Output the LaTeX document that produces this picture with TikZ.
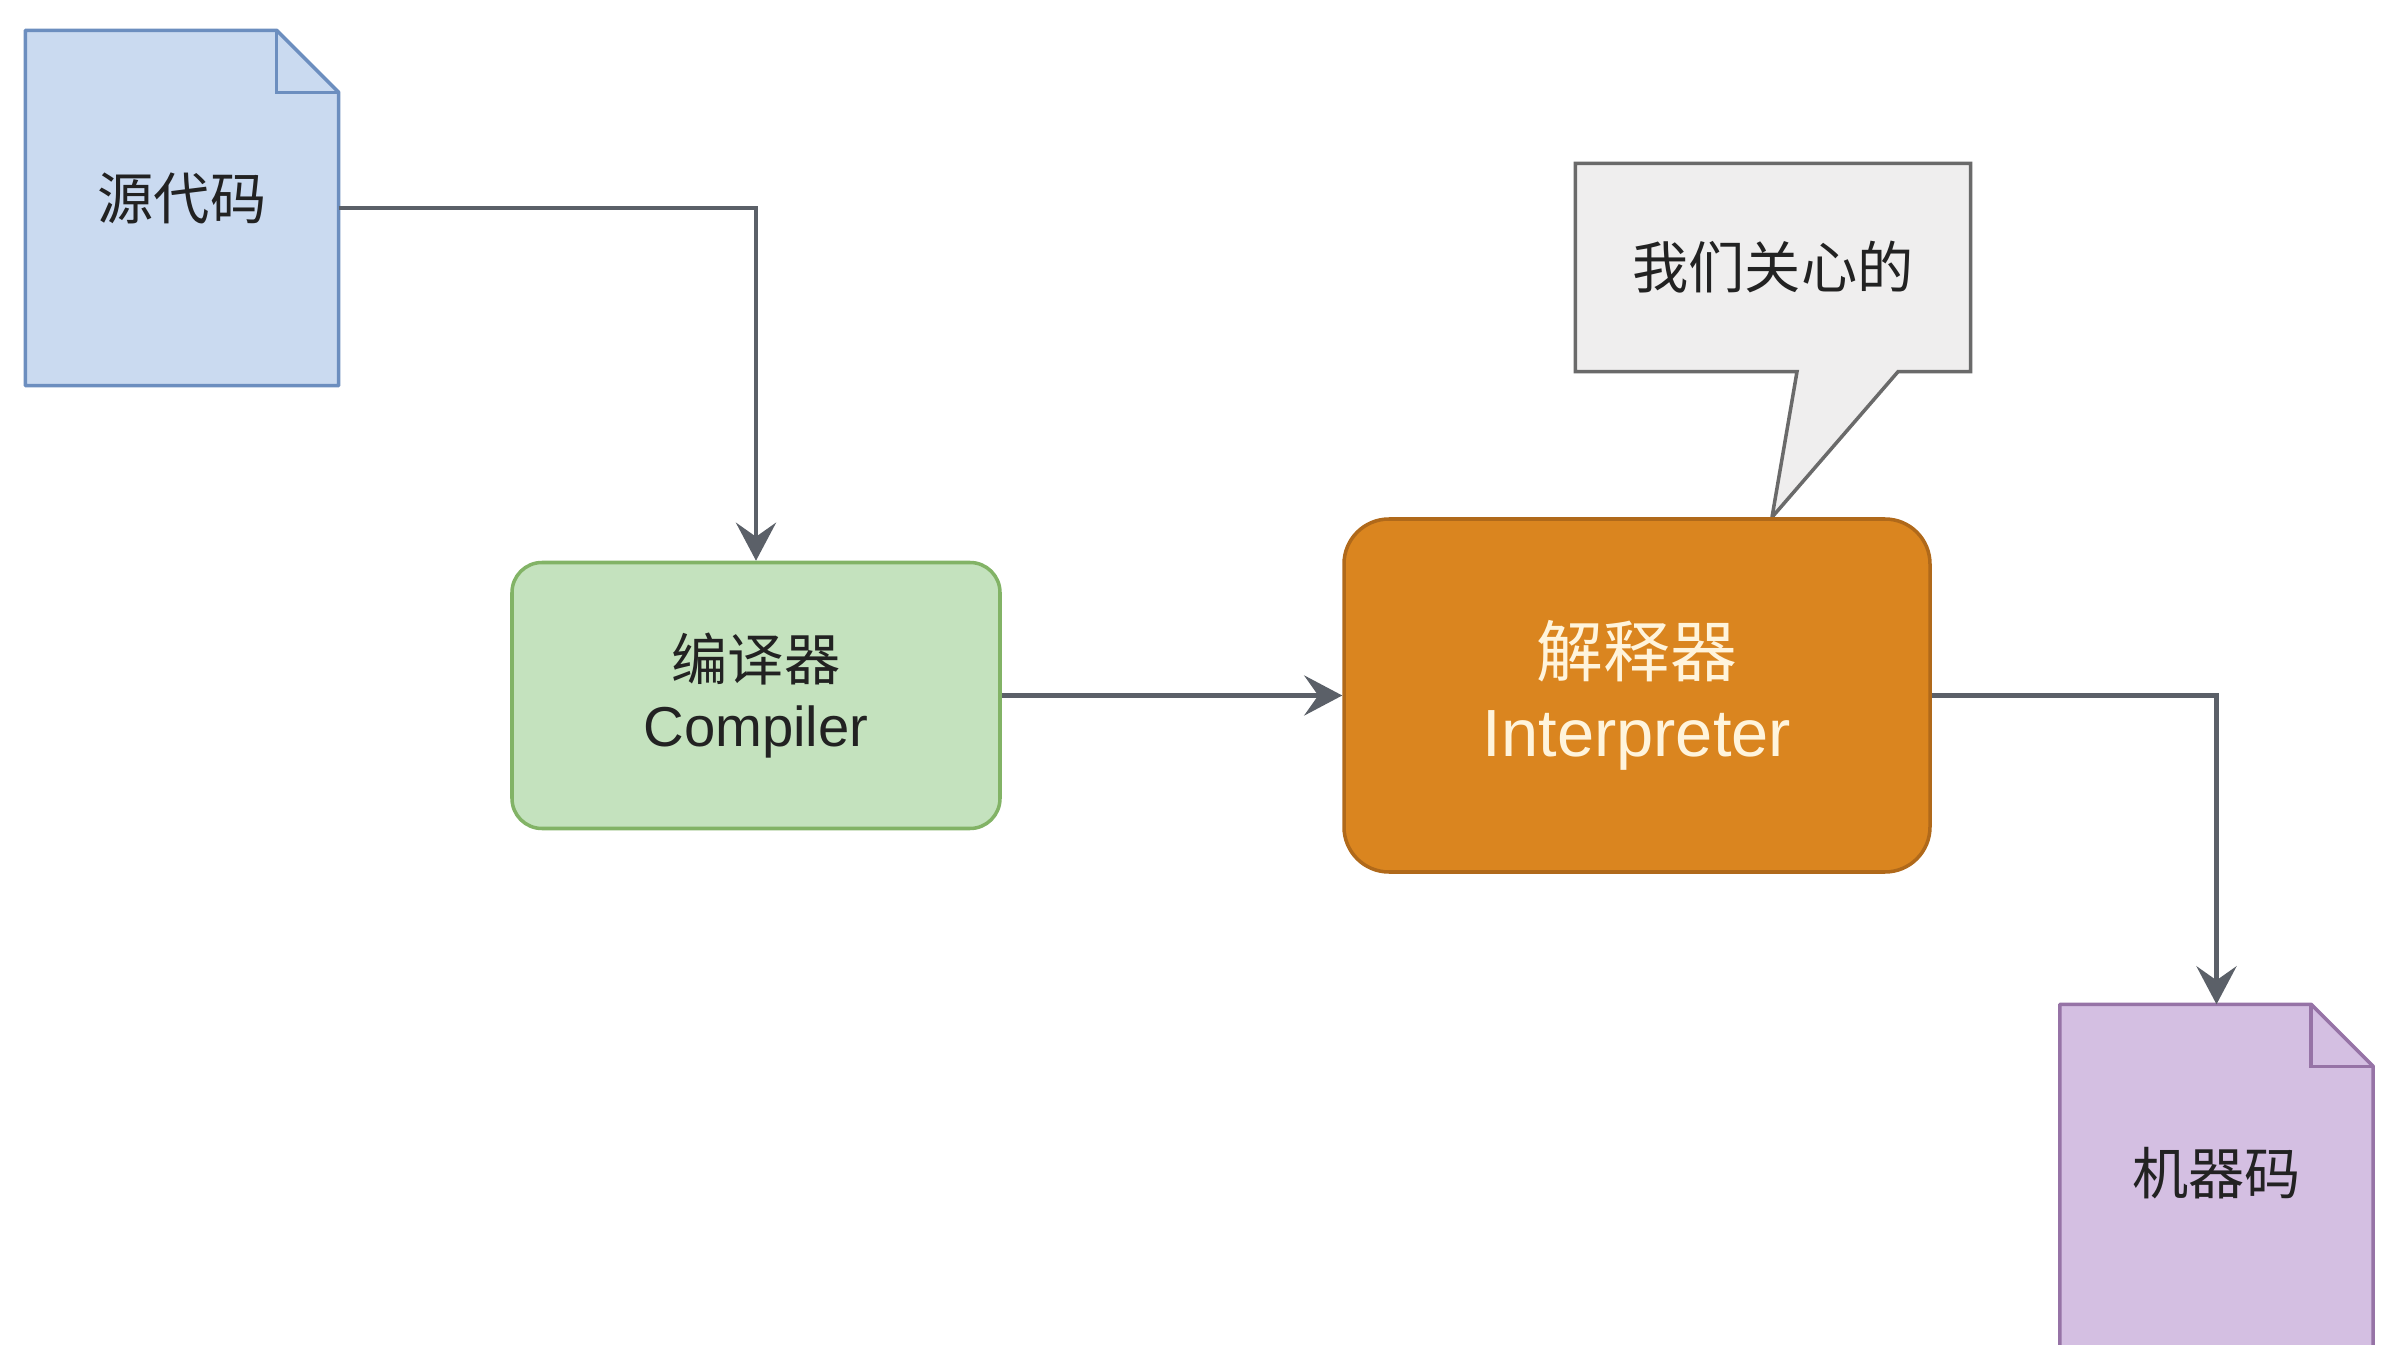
\documentclass[tikz,border=0pt]{standalone}
\usepackage{fontspec}
\setmainfont{Liberation Sans}
\newfontfamily\cjk{Noto Sans CJK SC}
\usetikzlibrary{arrows.meta,backgrounds,positioning}
\definecolor{srcfill}{HTML}{CADAF0}
\definecolor{srcline}{HTML}{6C8EBF}
\definecolor{cmpfill}{HTML}{C4E2BE}
\definecolor{cmpline}{HTML}{82B366}
\definecolor{itpfill}{HTML}{DA851F}
\definecolor{itpline}{HTML}{B0691A}
\definecolor{itptext}{HTML}{FFF4DC}
\definecolor{notefill}{HTML}{EFEEEE}
\definecolor{noteline}{HTML}{6A6A6A}
\definecolor{machfill}{HTML}{D4BFE2}
\definecolor{machline}{HTML}{9673A6}
\definecolor{linkgray}{HTML}{5B6068}
\definecolor{txtdark}{HTML}{222222}
\newcommand\dogpage[3]{%
  \draw[draw=#2,fill=#3,line width=1pt,line join=round]
    (#1.north west) -- ([xshift=-6.2mm]#1.north east) -- ([yshift=-6.2mm]#1.north east)
    -- (#1.south east) -- (#1.south west) -- cycle;
  \draw[draw=#2,line width=1pt] ([xshift=-6.2mm]#1.north east) |- ([yshift=-6.2mm]#1.north east);
}
\begin{document}
\begin{tikzpicture}[x=1cm,y=1cm,font=\fontsize{16}{19}\selectfont,>={Stealth[length=3.8mm,width=4mm,inset=1.4mm]},
  page/.style={minimum width=3.12cm,minimum height=3.54cm,inner sep=0pt,text depth=6.5pt,text=txtdark},
  proc/.style={rounded corners=3mm,line width=1pt,align=center,inner sep=0pt},
  link/.style={->,draw=linkgray,line width=1.4pt}]
  \useasboundingbox (0,0) rectangle (24.06,13.44);
  \node[page] (src) at (1.82,11.36) {\cjk 源代码};
  \node[proc,draw=cmpline,fill=cmpfill,text=txtdark,minimum width=4.88cm,minimum height=2.66cm] (cmp) at (7.56,6.485) {{\cjk 编译器}\\Compiler};
  \node[proc,draw=itpline,fill=itpfill,text=itptext,rounded corners=4.5mm,minimum width=5.86cm,minimum height=3.53cm,
    font=\fontsize{19}{22.6}\selectfont] (itp) at (16.37,6.485) {{\cjk 解释器}\\Interpreter};
  \node[minimum width=3.94cm,minimum height=2.07cm,inner sep=0pt,text=txtdark] (note) at (17.73,10.765) {\cjk 我们关心的};
  \coordinate (tip) at ([xshift=13.5mm]itp.north);
  \node[page] (mach) at (22.165,1.62) {\cjk 机器码};
  \begin{pgfonlayer}{background}
    \dogpage{src}{srcline}{srcfill}
    \dogpage{mach}{machline}{machfill}
    \draw[draw=noteline,fill=notefill,line width=1pt]
      (note.north west) -- (note.north east) -- (note.south east) -- ([xshift=12.5mm]note.south)
      -- (tip) -- ([xshift=2.4mm]note.south) -- (note.south west) -- cycle;
  \end{pgfonlayer}
  \draw[link] (src.east) -| (cmp.north);
  \draw[link] (cmp.east) -- (itp.west);
  \draw[link] (itp.east) -| (mach.north);
\end{tikzpicture}
\end{document}
